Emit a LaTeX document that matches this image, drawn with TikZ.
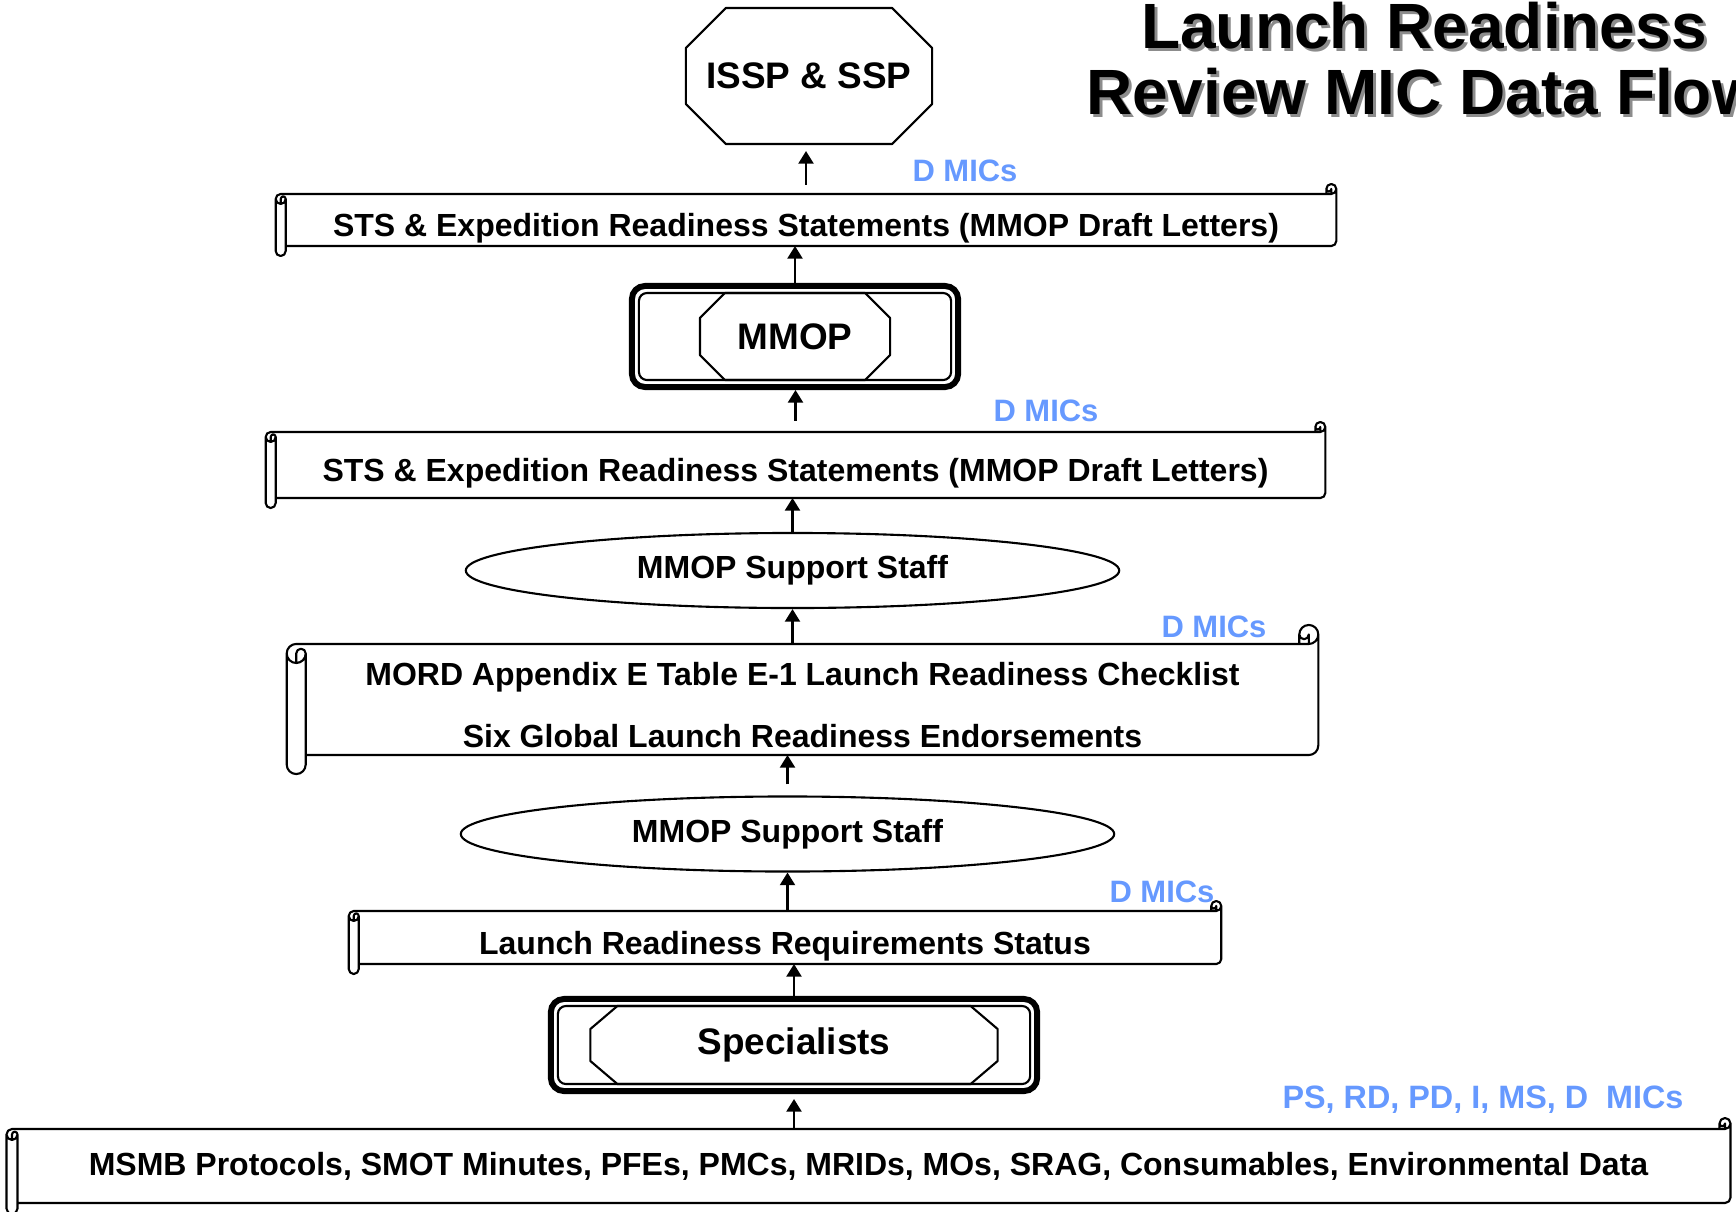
\documentclass[tikz,border=0pt]{standalone}
\usepackage{fontspec}
\setmainfont{Liberation Sans}
\usepackage{tikz}
\usetikzlibrary{arrows.meta, positioning, calc, shapes.geometric}

\definecolor{micblue}{RGB}{102,153,255}

\newcommand\flowfont{\fontsize{9.1}{17.6}\selectfont\bfseries}
\newcommand\namefont{\fontsize{10.5}{12}\selectfont\bfseries}
\newcommand\micfont{\fontsize{8.8}{10}\selectfont\bfseries}
\newcommand\bigtitlefont{\fontsize{18.2}{18.8}\selectfont\bfseries}

% scroll outline round a node: #1 node, #2 roll size
\newcommand\scrollframe[2]{%
  \draw[outline] let \p1 = (#1.north west), \p2 = (#1.south east) in
    (\x1,\y1-0.5*#2) arc[start angle=180, end angle=90, radius=0.5*#2]
    -- (\x2-#2,\y1) -- (\x2-#2,\y1+0.5*#2)
    arc[start angle=180, end angle=0, radius=0.5*#2]
    -- (\x2,\y2+0.5*#2) arc[start angle=0, end angle=-90, radius=0.5*#2]
    -- (\x1+#2,\y2) -- (\x1+#2,\y2-0.5*#2)
    arc[start angle=0, end angle=-180, radius=0.5*#2] -- cycle
    (\x2-#2,\y1) -- (\x2-0.5*#2,\y1) arc[start angle=-90, end angle=0, radius=0.5*#2]
    (\x2-0.5*#2,\y1) -- (\x2-0.5*#2,\y1+0.5*#2) arc[start angle=0, end angle=-180, radius=0.25*#2]
    (\x1+0.5*#2,\y1-#2) -- (\x1+0.5*#2,\y1-0.5*#2) arc[start angle=180, end angle=0, radius=0.25*#2]
    arc[start angle=0, end angle=-180, radius=0.5*#2]
    (\x1+#2,\y1-0.5*#2) -- (\x1+#2,\y2);
}

% octagon round a node: #1 node, #2 x cut, #3 y cut
\newcommand\octframe[3]{%
  \draw[outline] ([xshift=#2]#1.north west) -- ([xshift=-#2]#1.north east)
    -- ([yshift=-#3]#1.north east) -- ([yshift=#3]#1.south east)
    -- ([xshift=-#2]#1.south east) -- ([xshift=#2]#1.south west)
    -- ([yshift=#3]#1.south west) -- ([yshift=-#3]#1.north west) -- cycle;
}

% thin line inside a double frame
\newcommand\innerframe[1]{%
  \draw[outline, rounded corners=0.08cm] ([shift={(0.1cm,-0.1cm)}]#1.north west)
    rectangle ([shift={(-0.1cm,0.1cm)}]#1.south east);
}

\begin{document}
\begin{tikzpicture}[
  x=0.01cm, y=-0.01cm,
  outline/.style = {line width=0.6pt, line join=round},
  scroll/.style = {inner sep=0pt, outer sep=0pt, align=center, font=\flowfont},
  oneline/.style = {text height=9.4pt, text depth=0pt},
  oct/.style = {inner sep=0pt, outer sep=0pt, font=\namefont},
  frame/.style = {draw, line width=1.7pt, rounded corners=0.13cm, inner sep=0pt},
  staff/.style = {ellipse, draw, line width=0.6pt, inner sep=0pt, minimum width=6.53cm, minimum height=0.75cm, font=\flowfont},
  mic/.style = {text=micblue, inner sep=0pt, font=\micfont},
  title/.style = {anchor=north, align=center, inner sep=0pt, font=\bigtitlefont},
  arrow/.style = {line width=0.6pt, -{Triangle[width=4.3pt, length=3.6pt]}}
]
  \useasboundingbox (0,0) rectangle (1736,1212);

  % Title
  \node[title, text=black!45] (titleshadow) at (1427,4) {Launch Readiness\\Review MIC Data Flow};
  \node[title] (title) at (1424,1) {Launch Readiness\\Review MIC Data Flow};

  % ISSP & SSP
  \node[oct, minimum width=2.46cm, minimum height=1.36cm] (issp) at (809,76) {ISSP \& SSP};
  \octframe{issp}{0.4cm}{0.4cm}

  % Readiness statements (upper)
  \node[scroll, oneline, minimum width=10.6cm, minimum height=0.52cm] (draft1) at (806,220)
    {STS \& Expedition Readiness Statements (MMOP Draft Letters)};
  \scrollframe{draft1}{0.1cm}
  \node[mic] (mic1) at (965,171) {D MICs};

  % MMOP
  \node[frame, minimum width=3.26cm, minimum height=1.01cm] (mmop) at (795,336.5) {};
  \innerframe{mmop}
  \node[oct, minimum width=1.9cm, minimum height=0.87cm] (mmopname) at (mmop.center) {MMOP};
  \octframe{mmopname}{0.25cm}{0.25cm}

  % Readiness statements (lower)
  \node[scroll, oneline, minimum width=10.59cm, minimum height=0.66cm] (draft2) at (795.5,465)
    {STS \& Expedition Readiness Statements (MMOP Draft Letters)};
  \scrollframe{draft2}{0.1cm}
  \node[mic] (mic2) at (1046,411) {D MICs};

  % Support staff (upper)
  \node[staff] (staff1) at (792.5,570.5) {MMOP Support Staff};

  % MORD checklist
  \node[scroll, minimum width=10.31cm, minimum height=1.11cm] (mord) at (802.5,699.5)
    {\rule{0pt}{9.6pt}MORD Appendix E Table E-1 Launch Readiness Checklist\\Six Global Launch Readiness Endorsements};
  \scrollframe{mord}{0.19cm}
  \node[mic] (mic3) at (1214,627) {D MICs};

  % Support staff (lower)
  \node[staff] (staff2) at (787.5,834) {MMOP Support Staff};

  % Requirements status
  \node[scroll, oneline, minimum width=8.72cm, minimum height=0.53cm] (status) at (785,937.5)
    {Launch Readiness Requirements Status};
  \scrollframe{status}{0.1cm}
  \node[mic] (mic4) at (1162,892) {D MICs};

  % Specialists
  \node[frame, minimum width=4.86cm, minimum height=0.92cm] (spec) at (794,1045) {};
  \innerframe{spec}
  \node[oct, minimum width=4.07cm, minimum height=0.78cm] (specname) at (spec.center) {Specialists};
  \octframe{specname}{0.27cm}{0.23cm}

  % Data sources
  \node[scroll, minimum width=17.23cm, minimum height=0.74cm] (sources) at (868.5,1166)
    {MSMB Protocols, SMOT Minutes, PFEs, PMCs, MRIDs, MOs, SRAG, Consumables, Environmental Data};
  \scrollframe{sources}{0.11cm}
  \node[mic, font=\fontsize{9.2}{10}\selectfont\bfseries] (mic5) at (1483,1100) {PS, RD, PD, I, MS, D~ MICs};

  % Flow
  \draw[arrow, shorten <=0.09cm, shorten >=0.07cm] (draft1.north) -- (draft1.north |- issp.south);
  \draw[arrow] (mmop.north) -- (mmop.north |- draft1.south);
  \draw[arrow, shorten <=0.11cm] (draft2.north) -- (draft2.north |- mmop.south);
  \draw[arrow] (staff1.north) -- (staff1.north |- draft2.south);
  \draw[arrow] (mord.north -| staff1.south) -- (staff1.south);
  \draw[arrow, shorten <=0.11cm] (staff2.north) -- (staff2.north |- mord.south);
  \draw[arrow] (status.north -| staff2.south) -- (staff2.south);
  \draw[arrow] (spec.north) -- (spec.north |- status.south);
  \draw[arrow, shorten >=0.05cm] (sources.north -| spec.south) -- (spec.south);

\end{tikzpicture}
\end{document}
